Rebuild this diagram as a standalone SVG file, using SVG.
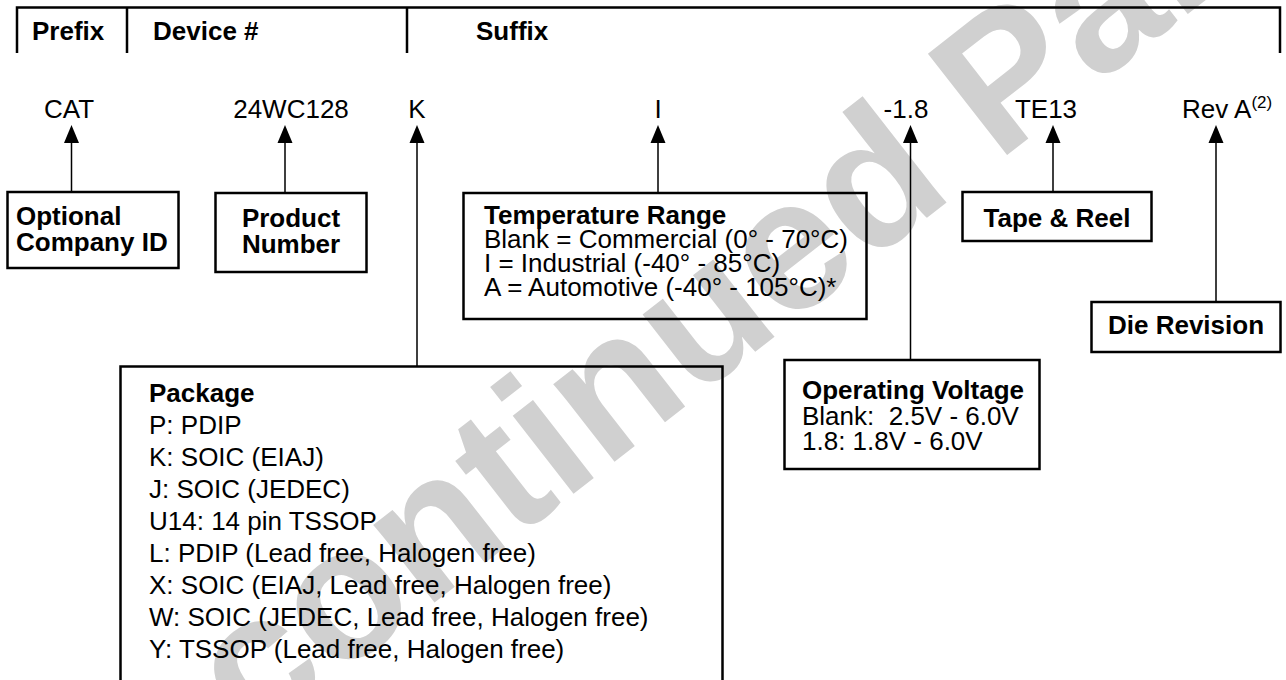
<svg xmlns="http://www.w3.org/2000/svg" width="1286" height="680" viewBox="0 0 1286 680">
<style>
.hdr{font-family:"Liberation Sans",Arial,sans-serif;font-weight:bold;font-size:26px;fill:#000}
.b{font-family:"Liberation Sans",Arial,sans-serif;font-weight:bold;font-size:26px;fill:#000}
.r{font-family:"Liberation Sans",Arial,sans-serif;font-size:26px;fill:#000;white-space:pre}
.lbl{font-family:"Liberation Sans",Arial,sans-serif;font-size:26px;fill:#000;text-anchor:middle}
.box{fill:none;stroke:#000;stroke-width:2.5}
.rule{stroke:#000;stroke-width:2.5;fill:none}
.con{stroke:#000;stroke-width:1.5;fill:none}
.ah{fill:#000}
.wm{font-family:"Liberation Sans",Arial,sans-serif;font-weight:bold;font-size:187px;fill:#d0d0d0}
</style>
<text class="wm" transform="translate(23,924) rotate(-38)">Discontinued Part</text>
<g id="header">
<path class="rule" d="M17,53 V7.5 H1280 V53 M127,7.5 V53 M407,7.5 V53"/>
<text class="hdr" x="32" y="40">Prefix</text>
<text class="hdr" x="153" y="40">Device #</text>
<text class="hdr" x="476" y="40">Suffix</text>
</g>
<g id="codes">
<text class="lbl" x="69" y="118">CAT</text>
<text class="lbl" x="291" y="118">24WC128</text>
<text class="lbl" x="417" y="118">K</text>
<text class="lbl" x="658" y="118">I</text>
<text class="lbl" x="906" y="118">-1.8</text>
<text class="lbl" x="1046" y="118">TE13</text>
<text class="r" x="1182" y="118">Rev A<tspan font-size="17" dy="-10">(2)</tspan></text>
</g>
<g id="connectors">
<path class="con" d="M71.5,140 V192 M285,140 V193 M417,140 V366 M658,140 V193 M910.5,140 V360 M1053,140 V192 M1216,140 V302"/>
<polygon class="ah" points="71.5,125 64,143 79,143"/>
<polygon class="ah" points="285,125 277.5,143 292.5,143"/>
<polygon class="ah" points="417,125 409.5,143 424.5,143"/>
<polygon class="ah" points="658,125 650.5,143 665.5,143"/>
<polygon class="ah" points="910.5,125 903,143 918,143"/>
<polygon class="ah" points="1053,125 1045.5,143 1060.5,143"/>
<polygon class="ah" points="1216,125 1208.5,143 1223.5,143"/>
</g>
<g id="company-id">
<rect class="box" x="7.5" y="192" width="171" height="76"/>
<text class="b" x="16" y="225">Optional</text>
<text class="b" x="16" y="251">Company ID</text>
</g>
<g id="product-number">
<rect class="box" x="215.5" y="193" width="151" height="79"/>
<text class="b" x="291" y="227" text-anchor="middle">Product</text>
<text class="b" x="291" y="253" text-anchor="middle">Number</text>
</g>
<g id="temperature-range">
<rect class="box" x="463.5" y="193" width="403" height="126"/>
<text class="b" x="484" y="224">Temperature Range</text>
<text class="r" x="484" y="248">Blank = Commercial (0° - 70°C)</text>
<text class="r" x="484" y="272">I = Industrial (-40° - 85°C)</text>
<text class="r" x="484" y="296">A = Automotive (-40° - 105°C)*</text>
</g>
<g id="tape-reel">
<rect class="box" x="962.5" y="192" width="189" height="49"/>
<text class="b" x="1057" y="227" text-anchor="middle">Tape &amp; Reel</text>
</g>
<g id="die-revision">
<rect class="box" x="1091.5" y="302" width="189" height="50"/>
<text class="b" x="1186" y="334" text-anchor="middle">Die Revision</text>
</g>
<g id="operating-voltage">
<rect class="box" x="784.5" y="360" width="255" height="109"/>
<text class="b" x="802" y="399">Operating Voltage</text>
<text class="r" x="802" y="425">Blank:  2.5V - 6.0V</text>
<text class="r" x="802" y="450">1.8: 1.8V - 6.0V</text>
</g>
<g id="package">
<path class="box" d="M120.5,700 V366.5 H722.5 V700"/>
<text class="b" x="149" y="402">Package</text>
<text class="r" x="149" y="434">P: PDIP</text>
<text class="r" x="149" y="466">K: SOIC (EIAJ)</text>
<text class="r" x="149" y="498">J: SOIC (JEDEC)</text>
<text class="r" x="149" y="530">U14: 14 pin TSSOP</text>
<text class="r" x="149" y="562">L: PDIP (Lead free, Halogen free)</text>
<text class="r" x="149" y="594">X: SOIC (EIAJ, Lead free, Halogen free)</text>
<text class="r" x="149" y="626">W: SOIC (JEDEC, Lead free, Halogen free)</text>
<text class="r" x="149" y="658">Y: TSSOP (Lead free, Halogen free)</text>
</g>
</svg>
